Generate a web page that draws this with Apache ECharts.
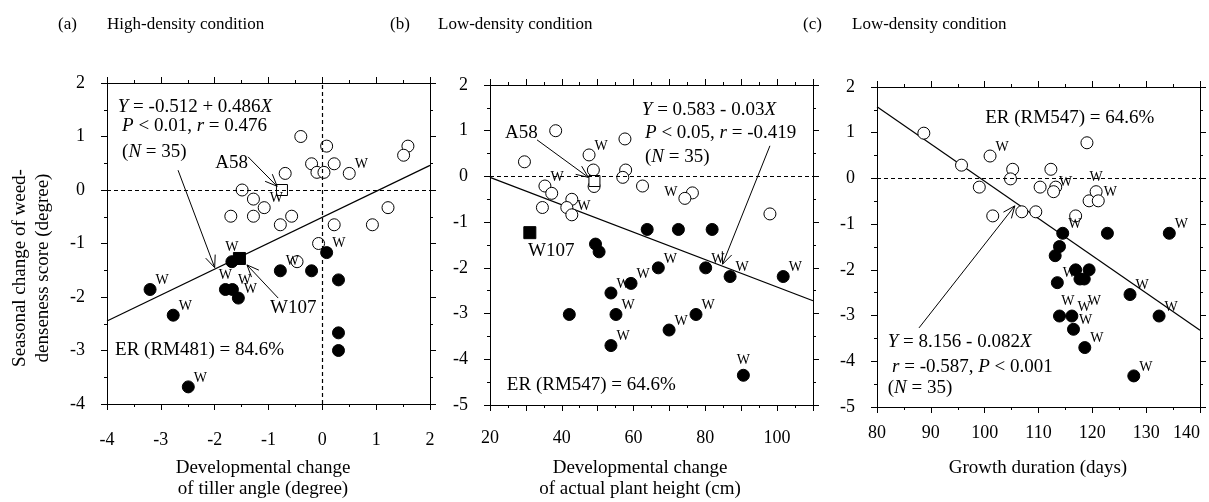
<!DOCTYPE html>
<html>
<head>
<meta charset="utf-8">
<script src="https://cdn.jsdelivr.net/npm/echarts@6.0.0/dist/echarts.min.js"></script>
<style>
html, body { margin: 0; padding: 0; background: #fff; }
#main { width: 1209px; height: 502px; }
</style>
</head>
<body>
<div id="main"></div>
<script>
// points are [x, y, flag]; flag 'W' marks the labelled lines

// (a) high-density: tiller angle change
var aOpen = [[-0.4, 1.0], [0.08, 0.82], [1.59, 0.82], [1.51, 0.65], [-0.2, 0.49], [0.22, 0.49],
  [-0.1, 0.33], [0.03, 0.33], [0.5, 0.31, 'W'], [-0.69, 0.31], [-1.49, 0], [-1.28, -0.17],
  [-1.08, -0.33, 'W'], [-1.7, -0.49], [-1.28, -0.49], [-0.57, -0.49], [-0.78, -0.65],
  [0.22, -0.65], [0.93, -0.65], [1.22, -0.33], [-0.07, -1.0], [-0.47, -1.34]];
var aFilled = [[-3.2, -1.86, 'W'], [-2.77, -2.34, 'W'], [-2.49, -3.68, 'W'], [-1.68, -1.34, 'W'],
  [-1.8, -1.86, 'W'], [-1.67, -1.86, 'W'], [-1.56, -2.02, 'W'], [-0.78, -1.51, 'W'], [-0.2, -1.51],
  [0.08, -1.17, 'W'], [0.3, -1.68], [0.3, -2.67], [0.3, -3.0]];
var aA58 = [[-0.75, 0]];
var aW107 = [[-1.54, -1.28]];
var aFit = [[-4, -2.45], [2, 0.46]];

// (b) low-density: plant height change
var bOpen = [[38.3, 1.0], [29.6, 0.32], [57.6, 0.82], [47.6, 0.47, 'W'], [48.8, 0.14], [57.8, 0.14],
  [57, -0.02], [49, -0.22], [62.5, -0.21], [35.3, -0.21, 'W'], [37.2, -0.37], [42.8, -0.5],
  [34.6, -0.68], [41.4, -0.68], [42.8, -0.84, 'W'], [76.4, -0.36], [74.3, -0.48, 'W'], [98, -0.82]];
var bFilled = [[63.8, -1.16], [72.5, -1.16], [81.9, -1.16], [49.4, -1.48], [50.4, -1.65],
  [66.9, -2.0, 'W'], [80.1, -2.0, 'W'], [86.9, -2.19, 'W'], [101.7, -2.19, 'W'], [59.3, -2.34, 'W'],
  [53.7, -2.55, 'W'], [42.1, -3.02], [55.1, -3.02, 'W'], [77.4, -3.02, 'W'], [69.9, -3.36, 'W'],
  [53.7, -3.7, 'W'], [90.6, -4.35, 'W']];
var bA58 = [[49.1, -0.1]];
var bW107 = [[31.1, -1.23]];
var bFit = [[20, -0.02], [110, -2.72]];

// (c) low-density: growth duration
var cOpen = [[88.7, 0.99], [95.7, 0.29], [99.0, -0.19], [101.0, 0.49, 'W'], [105.2, 0.2], [104.8, -0.01],
  [101.5, -0.82], [106.9, -0.73], [109.5, -0.73], [110.3, -0.19], [112.3, 0.2], [113.2, -0.19],
  [112.8, -0.29, 'W'], [119.0, 0.78], [116.9, -0.82], [119.4, -0.49], [120.7, -0.29, 'W'], [121.1, -0.49, 'W']];
var cFilled = [[114.5, -1.2, 'W'], [122.8, -1.2], [134.3, -1.2, 'W'], [113.9, -1.49], [113.1, -1.69],
  [116.9, -2.0], [119.4, -2.0], [113.5, -2.28, 'W'], [117.7, -2.2, 'W'], [118.5, -2.2, 'W'],
  [127.0, -2.54, 'W'], [113.9, -3.01], [116.2, -3.01, 'W'], [132.4, -3.01, 'W'], [116.5, -3.3, 'W'],
  [118.6, -3.7, 'W'], [127.7, -4.32, 'W']];
var cFit = [[80, 1.57], [140, -3.32]];

// annotation arrows: [grid, from, to]
var arrows = [
  [0, [-2.68, 0.37], [-2.0, -1.45]],
  [0, [-1.38, 0.62], [-0.84, 0.07]],
  [0, [-0.82, -2.02], [-1.4, -1.4]],
  [1, [98, 0.67], [84.8, -1.92]],
  [1, [33.1, 0.8], [47.4, -0.02]],
  [2, [87.8, -3.27], [105.6, -0.6]]
];

var FONT = '"Liberation Serif", "DejaVu Serif", serif';

// where the W goes when it is not up-right of the dot
var wPlace = {
  aFilled: { 3: 'top', 4: 'top' },
  bOpen: { 16: 'left' },
  bFilled: { 16: 'top' },
  cOpen: { 16: 'top' },
  cFilled: { 8: 'bl', 9: 'br' }
};
var wStyle = {
  tr: { position: 'right', offset: [-6, -9] },
  top: { position: 'top', distance: 1 },
  left: { position: 'left', offset: [4, -6] },
  bl: { position: 'bottom', offset: [-12, 4] },
  br: { position: 'bottom', offset: [10, 4] }
};

function items(arr, key) {
  return arr.map(function (p, i) {
    var it = { value: [p[0], p[1]] };
    if (p[2]) {
      var pos = (wPlace[key] || {})[i] || 'tr';
      it.label = Object.assign({ show: true, formatter: p[2] }, wStyle[pos]);
    }
    return it;
  });
}

function dots(g, data, symbol, fill, size) {
  return {
    type: 'scatter', xAxisIndex: g, yAxisIndex: g, data: data, symbol: symbol,
    symbolSize: size, silent: true, z: 4,
    itemStyle: { color: fill, borderColor: '#000', borderWidth: 1, opacity: 1 },
    label: { show: false, fontFamily: FONT, fontSize: 14, color: '#000' }
  };
}

function fitLine(g, data, zeros) {
  return {
    type: 'line', xAxisIndex: g, yAxisIndex: g, data: data, symbol: 'none', silent: true, z: 2,
    lineStyle: { color: '#000', width: 1.2 },
    markLine: {
      silent: true, symbol: ['none', 'none'], animation: false,
      lineStyle: { color: '#000', width: 1.2, type: [4, 3] }, label: { show: false },
      data: zeros
    }
  };
}

function arrowShafts(g) {
  return {
    type: 'line', xAxisIndex: g, yAxisIndex: g, data: [], silent: true, z: 3,
    markLine: {
      silent: true, symbol: ['none', 'none'], animation: false,
      lineStyle: { color: '#000', width: 1, type: 'solid' }, label: { show: false },
      data: arrows.filter(function (a) { return a[0] === g; })
        .map(function (a) { return [{ coord: a[1] }, { coord: a[2] }]; })
    }
  };
}

function xAx(g, min, max, iv, pos, margin, every) {
  return {
    type: 'value', gridIndex: g, position: pos, min: min, max: max, interval: iv,
    axisLine: { show: true, onZero: false, lineStyle: { color: '#000', width: 1 } },
    axisTick: { show: true, inside: false, length: 6, lineStyle: { color: '#000' } },
    minorTick: { show: true, splitNumber: 2, length: 3, lineStyle: { color: '#000' } },
    splitLine: { show: false },
    axisLabel: {
      show: pos === 'bottom', margin: margin, color: '#000', fontFamily: FONT, fontSize: 18,
      alignMaxLabel: g === 2 ? 'right' : null,
      formatter: function (v) { return (v - min) % every === 0 ? String(v) : ''; }
    }
  };
}

function yAx(g, min, max, pos) {
  return {
    type: 'value', gridIndex: g, position: pos, min: min, max: max, interval: 1,
    axisLine: { show: true, onZero: false, lineStyle: { color: '#000', width: 1 } },
    axisTick: { show: true, inside: false, length: 6, lineStyle: { color: '#000' } },
    minorTick: { show: true, splitNumber: 2, length: 3, lineStyle: { color: '#000' } },
    splitLine: { show: false },
    axisLabel: { show: pos === 'left', margin: 22, color: '#000', fontFamily: FONT, fontSize: 18 }
  };
}

var option = {
  animation: false,
  backgroundColor: '#fff',
  grid: [
    { left: 107, top: 83, width: 323, height: 321, outerBoundsMode: 'none' },
    { left: 490, top: 85, width: 323, height: 320, outerBoundsMode: 'none' },
    { left: 877, top: 87, width: 323, height: 320, outerBoundsMode: 'none' }
  ],
  xAxis: [
    xAx(0, -4, 2, 1, 'bottom', 27, 1), xAx(1, 20, 110, 10, 'bottom', 24, 20), xAx(2, 80, 140, 10, 'bottom', 17, 10),
    xAx(0, -4, 2, 1, 'top', 0, 1), xAx(1, 20, 110, 10, 'top', 0, 20), xAx(2, 80, 140, 10, 'top', 0, 10)
  ],
  yAxis: [
    yAx(0, -4, 2, 'left'), yAx(1, -5, 2, 'left'), yAx(2, -5, 2, 'left'),
    yAx(0, -4, 2, 'right'), yAx(1, -5, 2, 'right'), yAx(2, -5, 2, 'right')
  ],
  series: [
    fitLine(0, aFit, [{ yAxis: 0 }, { xAxis: 0 }]),
    arrowShafts(0),
    dots(0, items(aOpen, 'aOpen'), 'circle', '#fff', 12),
    dots(0, items(aFilled, 'aFilled'), 'circle', '#000', 12),
    dots(0, aA58, 'rect', '#fff', 11),
    dots(0, aW107, 'rect', '#000', 12),

    fitLine(1, bFit, [{ yAxis: 0 }]),
    arrowShafts(1),
    dots(1, items(bOpen, 'bOpen'), 'circle', '#fff', 12),
    dots(1, items(bFilled, 'bFilled'), 'circle', '#000', 12),
    dots(1, bA58, 'rect', '#fff', 11),
    dots(1, bW107, 'rect', '#000', 12),

    fitLine(2, cFit, [{ yAxis: 0 }]),
    arrowShafts(2),
    dots(2, items(cOpen, 'cOpen'), 'circle', '#fff', 12),
    dots(2, items(cFilled, 'cFilled'), 'circle', '#000', 12)
  ]
};

var chart = echarts.init(document.getElementById('main'));
chart.setOption(option);

// text notes anchored in data space: [grid, x, y, text]
var notes = [
  [0, -3.80, 1.55, '{i|Y} = -0.512 + 0.486{i|X}'],
  [0, -3.72, 1.20, '{i|P} < 0.01, {i|r} = 0.476'],
  [0, -3.72, 0.71, '({i|N} = 35)'],
  [0, -1.99, 0.50, 'A58'],
  [0, -0.97, -2.21, 'W107'],
  [0, -3.85, -2.99, 'ER (RM481) = 84.6%'],
  [1, 62.3, 1.45, '{i|Y} = 0.583 - 0.03{i|X}'],
  [1, 63.2, 0.95, '{i|P} < 0.05, {i|r} = -0.419'],
  [1, 63.2, 0.42, '({i|N} = 35)'],
  [1, 24.2, 0.95, 'A58'],
  [1, 30.6, -1.63, 'W107'],
  [1, 24.7, -4.56, 'ER (RM547) = 64.6%'],
  [2, 100.1, 1.32, 'ER (RM547) = 64.6%'],
  [2, 82.0, -3.58, '{i|Y} = 8.156 - 0.082{i|X}'],
  [2, 82.8, -4.13, '{i|r} = -0.587, {i|P} < 0.001'],
  [2, 82.0, -4.59, '({i|N} = 35)']
];

function txt(x, y, text, size, align, extra) {
  return Object.assign({
    type: 'text', x: x, y: y, silent: true, z: 10,
    style: {
      text: text, fill: '#000', font: size + 'px ' + FONT, align: align || 'left', verticalAlign: 'middle',
      rich: { i: { fontStyle: 'italic', fontFamily: FONT, fontSize: size } }
    }
  }, extra || {});
}

var graphics = notes.map(function (n) {
  var p = chart.convertToPixel({ gridIndex: n[0] }, [n[1], n[2]]);
  return txt(p[0], p[1], n[3], 19);
});

// open V heads at the arrow tips
arrows.forEach(function (a) {
  var p0 = chart.convertToPixel({ gridIndex: a[0] }, a[1]);
  var p1 = chart.convertToPixel({ gridIndex: a[0] }, a[2]);
  var ang = Math.atan2(p0[1] - p1[1], p0[0] - p1[0]);
  var len = 13, spread = 0.4;
  graphics.push({
    type: 'polyline', silent: true, z: 10,
    shape: { points: [
      [p1[0] + len * Math.cos(ang + spread), p1[1] + len * Math.sin(ang + spread)],
      [p1[0], p1[1]],
      [p1[0] + len * Math.cos(ang - spread), p1[1] + len * Math.sin(ang - spread)]
    ] },
    style: { stroke: '#000', lineWidth: 1, fill: null }
  });
});

graphics.push(
  txt(58, 25, '(a)', 17), txt(107, 25, 'High-density condition', 17),
  txt(390, 25, '(b)', 17), txt(438, 25, 'Low-density condition', 17),
  txt(803, 25, '(c)', 17), txt(852, 25, 'Low-density condition', 17),
  txt(263, 468, 'Developmental change', 19, 'center'),
  txt(263, 489, 'of tiller angle (degree)', 19, 'center'),
  txt(640, 468, 'Developmental change', 19, 'center'),
  txt(640, 489, 'of actual plant height (cm)', 19, 'center'),
  txt(1038, 468, 'Growth duration (days)', 19, 'center'),
  txt(20, 268, 'Seasonal change of weed-', 19, 'center', { rotation: Math.PI / 2 }),
  txt(43, 268, 'denseness score (degree)', 19, 'center', { rotation: Math.PI / 2 })
);

chart.setOption({ graphic: graphics });
</script>
</body>
</html>
